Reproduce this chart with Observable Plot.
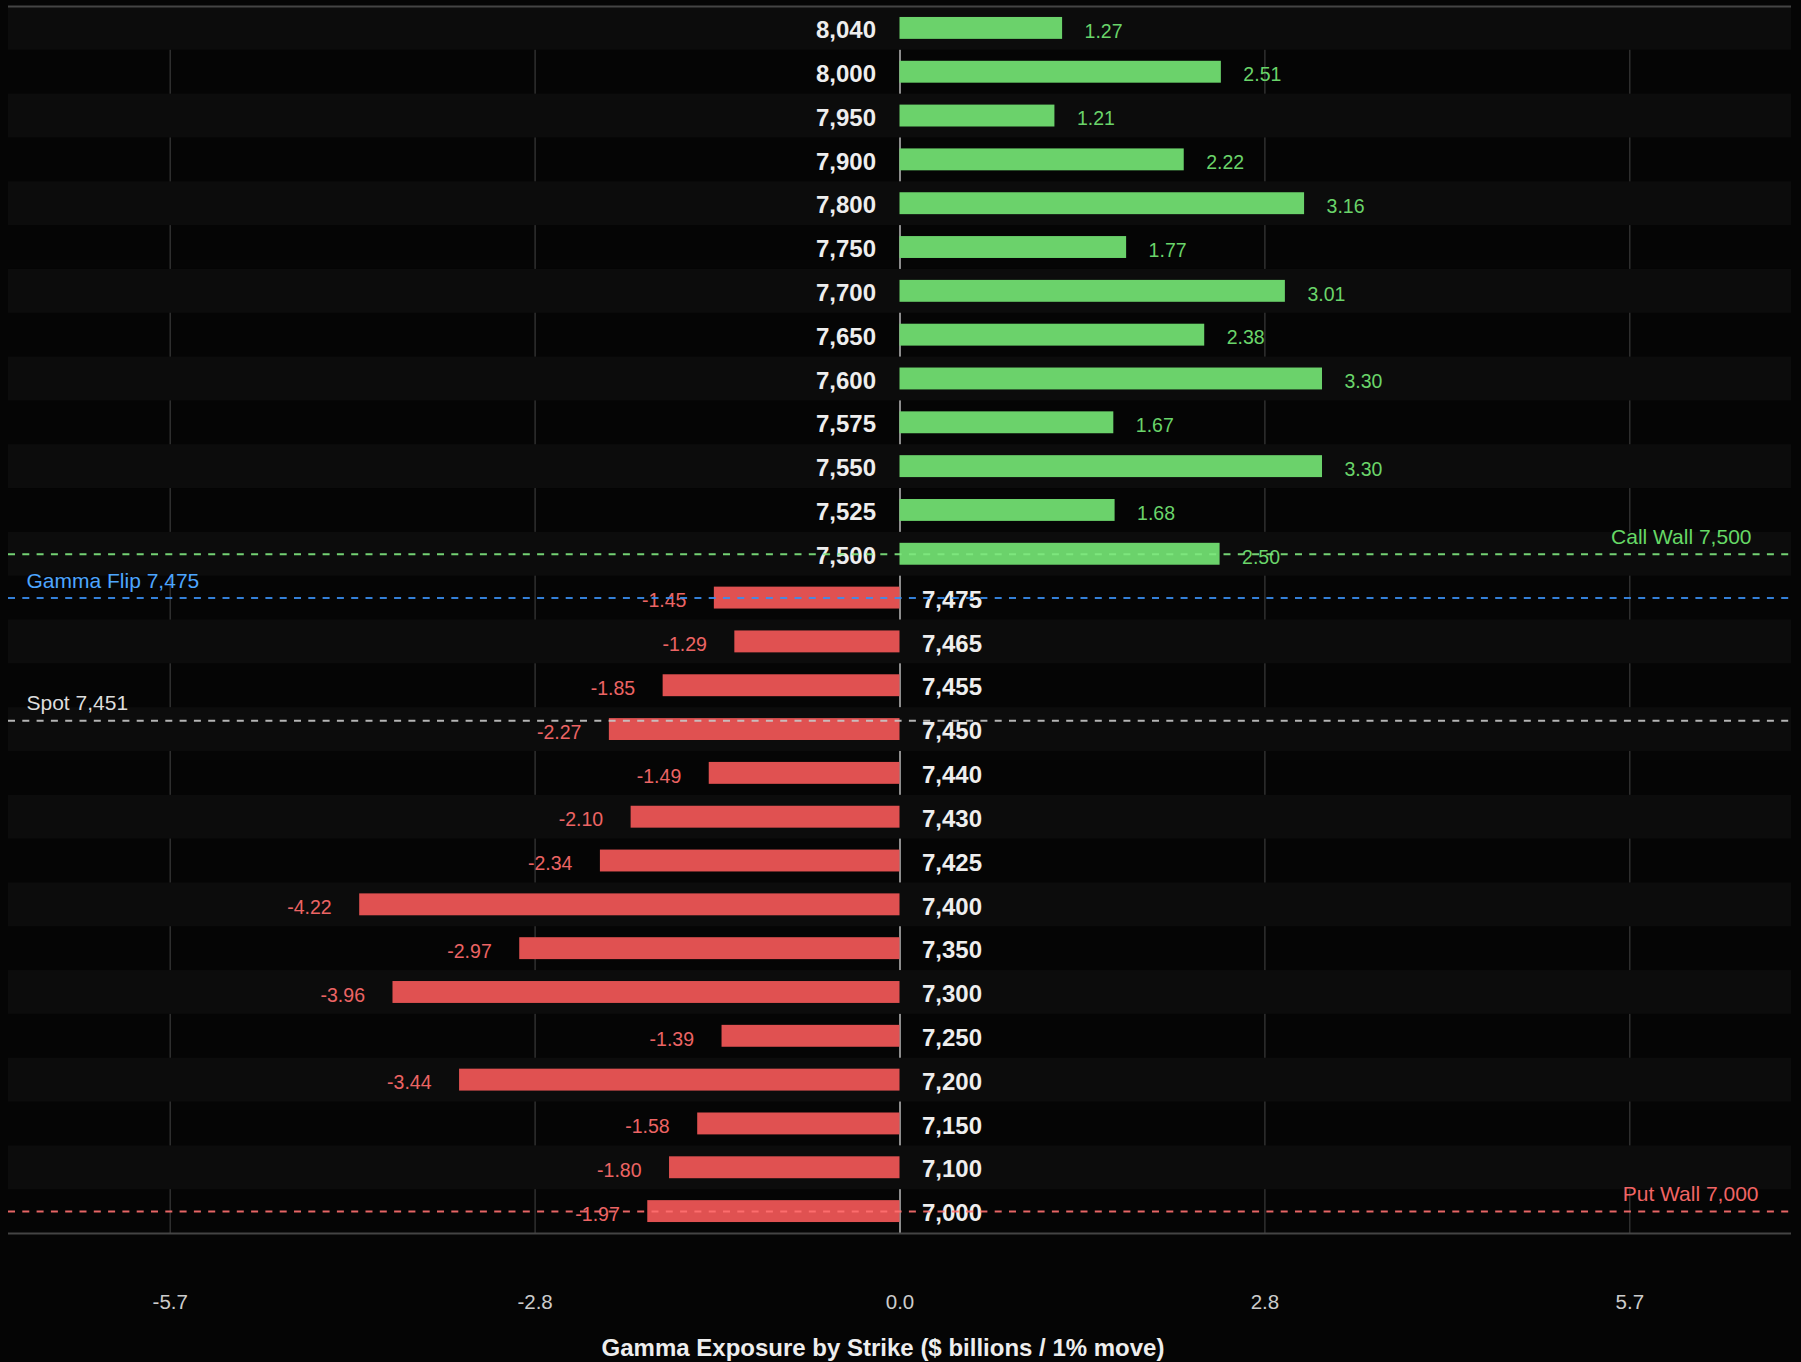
<!DOCTYPE html>
<html>
<head>
<meta charset="utf-8">
<script src="https://cdn.jsdelivr.net/npm/d3@7"></script>
<script src="https://cdn.jsdelivr.net/npm/@observablehq/plot@0.6"></script>
<style>
  html, body { margin: 0; padding: 0; background: #050505; overflow: hidden; }
  #chart svg { display: block; }
</style>
</head>
<body>
<div id="chart"></div>
<script>
// ---- data ----
const strikes = [8040, 8000, 7950, 7900, 7800, 7750, 7700, 7650, 7600, 7575, 7550, 7525, 7500,
                 7475, 7465, 7455, 7450, 7440, 7430, 7425, 7400, 7350, 7300, 7250, 7200, 7150, 7100, 7000];
const gex = [1.27, 2.51, 1.21, 2.22, 3.16, 1.77, 3.01, 2.38, 3.30, 1.67, 3.30, 1.68, 2.50,
             -1.45, -1.29, -1.85, -2.27, -1.49, -2.10, -2.34, -4.22, -2.97, -3.96, -1.39, -3.44, -1.58, -1.80, -1.97];
const xTicks = [-5.7, -2.85, 0, 2.85, 5.7];
const xTickLabels = ["-5.7", "-2.8", "0.0", "2.8", "5.7"];
const callWall = 7500;
const putWall = 7000;
const gammaFlip = 7475;
const spot = 7451;
const xTitle = "Gamma Exposure by Strike ($ billions / 1% move)";

// ---- derived ----
const rows = strikes.map((s, i) => ({strike: s, gex: gex[i], i}));
const pos = rows.filter(d => d.gex >= 0);
const neg = rows.filter(d => d.gex < 0);
const idxOf = s => strikes.indexOf(s);
function interpIndex(v) {
  for (let k = 0; k < strikes.length - 1; k++) {
    const a = strikes[k], b = strikes[k + 1];
    if ((v <= a && v >= b)) return k + (a - v) / (a - b);
  }
  return idxOf(v);
}
const maxAbs = d3.max(gex, d => Math.abs(d));
const xDomain = [-maxAbs * 1.65, maxAbs * 1.65];
const fmt = d3.format(",");
const tickRows = xTicks.map((t, k) => ({t, label: xTickLabels[k]}));

const GREEN = "#6bd26b", RED = "#e05151";
const FONT = "'Liberation Sans', Arial, Helvetica, sans-serif";

const levels = [
  {i: idxOf(callWall), label: `Call Wall ${fmt(callWall)}`, stroke: "#80e880", fill: "#66d966", side: "right", dx: -40},
  {i: idxOf(gammaFlip), label: `Gamma Flip ${fmt(gammaFlip)}`, stroke: "#3a8ef0", fill: "#4da6ff", side: "left", dx: 18},
  {i: interpIndex(spot), label: `Spot ${fmt(spot)}`, stroke: "#c8c8c8", fill: "#dddddd", side: "left", dx: 18},
  {i: idxOf(putWall), label: `Put Wall ${fmt(putWall)}`, stroke: "#ff7070", fill: "#f06464", side: "right", dx: -33}
];

const chart = Plot.plot({
  width: 1801,
  height: 1362,
  marginLeft: 8,
  marginRight: 10,
  marginTop: 6,
  marginBottom: 129,
  style: {background: "#050505", color: "#cccccc", fontFamily: FONT},
  x: {domain: xDomain, axis: null},
  y: {domain: [strikes.length - 0.5, -0.5], axis: null},
  marks: [
    // grid lines (underneath the row bands)
    Plot.ruleX(xTicks.filter(t => t !== 0), {stroke: "#3a3a3a", strokeWidth: 1.2}),
    Plot.ruleX([0], {stroke: "#8c8c8c", strokeWidth: 2}),
    // alternating row bands
    Plot.rect(rows.filter(d => d.i % 2 === 0), {
      x1: xDomain[0], x2: xDomain[1], y1: d => d.i - 0.5, y2: d => d.i + 0.5, fill: "#0c0c0c"
    }),
    // top and bottom frame lines
    Plot.ruleY([-0.5, strikes.length - 0.5], {stroke: "#444444", strokeWidth: 2}),
    // bars
    Plot.rect(pos, {x1: 0, x2: "gex", y1: d => d.i - 0.25, y2: d => d.i + 0.25, fill: GREEN}),
    Plot.rect(neg, {x1: 0, x2: "gex", y1: d => d.i - 0.25, y2: d => d.i + 0.25, fill: RED}),
    // strike labels
    Plot.text(pos, {x: 0, y: "i", text: d => fmt(d.strike), textAnchor: "end", dx: -24, dy: 2,
      fontSize: 24, fontWeight: "bold", fill: "#eeeeee"}),
    Plot.text(neg, {x: 0, y: "i", text: d => fmt(d.strike), textAnchor: "start", dx: 22, dy: 2,
      fontSize: 24, fontWeight: "bold", fill: "#eeeeee"}),
    // value labels
    Plot.text(pos, {x: "gex", y: "i", text: d => d.gex.toFixed(2), textAnchor: "start", dx: 22, dy: 3,
      fontSize: 19.5, fill: "#6ad46a"}),
    Plot.text(neg, {x: "gex", y: "i", text: d => d.gex.toFixed(2), textAnchor: "end", dx: -28, dy: 3,
      fontSize: 19.5, fill: "#ec6464"}),
    // level lines
    ...levels.map(l => Plot.ruleY([l.i], {stroke: l.stroke, strokeWidth: 2, strokeDasharray: "7,7.3", strokeOpacity: 0.9})),
    // level annotations
    ...levels.map(l => Plot.text([l], {
      y: "i", text: "label", frameAnchor: l.side, textAnchor: l.side === "left" ? "start" : "end",
      dx: l.dx, lineAnchor: "bottom", dy: -10.5, fontSize: 21, fill: l.fill
    })),
    // x axis tick labels
    Plot.text(tickRows, {x: "t", text: "label", frameAnchor: "bottom", lineAnchor: "top", dy: 61,
      fontSize: 20.5, fill: "#cccccc"}),
    Plot.text([xTitle], {text: d => d, frameAnchor: "bottom", lineAnchor: "bottom", dy: 122, dx: -17,
      fontSize: 24, fontWeight: "bold", fill: "#eeeeee"})
  ]
});

document.getElementById("chart").appendChild(chart);
</script>
</body>
</html>
